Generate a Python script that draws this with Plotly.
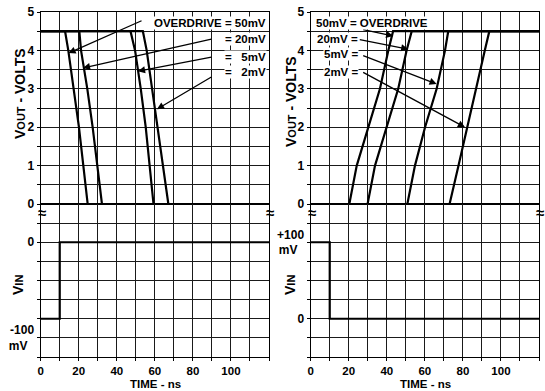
import plotly.graph_objects as go

# ---------------- data ----------------
# Left panel: output falling (time in ns, Vout in volts)
fall_v = [4.5, 4.5, 4.0, 3.0, 2.0, 1.0, 0.0, 0.0]
fall_t_50mv = [0, 12.8, 14.5, 17.5, 20.1, 22.4, 24.7, 120]
fall_t_20mv = [0, 20.3, 21.2, 24.5, 27.3, 29.7, 32.2, 120]
fall_t_5mv = [0, 47.2, 49.6, 52.6, 55.2, 57.3, 59.3, 120]
fall_t_2mv = [0, 53.7, 55.7, 58.6, 61.5, 64.3, 67.1, 120]

# Right panel: output rising
rise_v = [0.0, 0.0, 1.0, 2.0, 3.0, 4.0, 4.5, 4.5]
rise_t_50mv = [0, 20.3, 24.2, 30.3, 36.4, 40.8, 43.3, 120]
rise_t_20mv = [0, 29.9, 33.8, 39.9, 46.0, 50.4, 53.1, 120]
rise_t_5mv = [0, 50.8, 54.8, 60.1, 66.2, 70.6, 72.3, 120]
rise_t_2mv = [0, 73.0, 77.7, 82.2, 87.0, 91.5, 93.9, 120]

# Input steps (mV)
vin_t = [0, 10, 10, 120]
vin_left = [-100, -100, 0, 0]
vin_right = [100, 100, 0, 0]

# Ticks
x_grid = list(range(0, 121, 10))
x_labels = ["0", "", "20", "", "40", "", "60", "", "80", "", "100", "", ""]
vout_grid = [i * 0.5 for i in range(11)]
vout_labels = ["0", "", "1", "", "2", "", "3", "", "4", "", "5"]
vin_left_grid = list(range(-150, 51, 25))
vin_left_labels = ["", "-100<br>mV\u00a0\u00a0", "", "", "", "", "0", "", ""]
vin_right_grid = list(range(-50, 151, 25))
vin_right_labels = ["", "", "0", "", "", "", "+100<br>mV\u00a0\u00a0", "", ""]

left_labels = ["OVERDRIVE = 50mV", "= 20mV", "=\u00a0\u00a0\u00a05mV", "=\u00a0\u00a0\u00a02mV"]
right_labels = ["50mV = OVERDRIVE", "20mV =", "5mV =", "2mV ="]

# ---------------- figure ----------------
W, H = 545, 391
def px_x(p): return p / W
def px_y(p): return 1 - p / H

xl = [px_x(40.7), px_x(269)]
xr = [px_x(310.7), px_x(539)]
yu = [px_y(204), px_y(12)]
yd = [px_y(357), px_y(204)]

FONT = "Arial, Liberation Sans, Helvetica, sans-serif"
LW = 2.2

fig = go.Figure()
for t in [fall_t_50mv, fall_t_20mv, fall_t_5mv, fall_t_2mv]:
    fig.add_trace(go.Scatter(x=t, y=fall_v, mode="lines", line=dict(color="black", width=LW),
                             xaxis="x", yaxis="y", showlegend=False, hoverinfo="skip"))
fig.add_trace(go.Scatter(x=vin_t, y=vin_left, mode="lines", line=dict(color="black", width=LW),
                         xaxis="x2", yaxis="y2", showlegend=False, hoverinfo="skip"))
for t in [rise_t_50mv, rise_t_20mv, rise_t_5mv, rise_t_2mv]:
    fig.add_trace(go.Scatter(x=t, y=rise_v, mode="lines", line=dict(color="black", width=LW),
                             xaxis="x3", yaxis="y3", showlegend=False, hoverinfo="skip"))
fig.add_trace(go.Scatter(x=vin_t, y=vin_right, mode="lines", line=dict(color="black", width=LW),
                         xaxis="x4", yaxis="y4", showlegend=False, hoverinfo="skip"))

tickfont = dict(family=FONT, size=12, color="black", weight="bold")
common = dict(showline=True, mirror=True, linecolor="black", linewidth=1.3,
              showgrid=True, gridcolor="#1a1a1a", gridwidth=1.3, zeroline=False,
              ticks="outside", ticklen=3, tickcolor="black", tickwidth=1.2,
              automargin=False, fixedrange=True)

def xax(domain, anchor, labels):
    return dict(domain=domain, anchor=anchor, range=[0, 120], tickmode="array",
                tickvals=x_grid, ticktext=labels, ticklabelstandoff=0,
                tickfont=dict(family=FONT, size=11.5, color="black", weight="bold"), **common)

blank_x = [""] * len(x_grid)
fig.update_layout(
    width=W, height=H, margin=dict(l=0, r=0, t=0, b=0),
    paper_bgcolor="white", plot_bgcolor="white",
    xaxis=xax(xl, "y", blank_x),
    xaxis2=xax(xl, "y2", x_labels),
    xaxis3=xax(xr, "y3", blank_x),
    xaxis4=xax(xr, "y4", x_labels),
    yaxis=dict(domain=yu, anchor="x", range=[0, 5], tickmode="array",
               tickvals=vout_grid, ticktext=vout_labels, tickfont=tickfont, **common),
    yaxis2=dict(domain=yd, anchor="x2", range=[-150, 50], tickmode="array",
                tickvals=vin_left_grid, ticktext=vin_left_labels, tickfont=tickfont, **common),
    yaxis3=dict(domain=yu, anchor="x3", range=[0, 5], tickmode="array",
                tickvals=vout_grid, ticktext=vout_labels, tickfont=tickfont, **common),
    yaxis4=dict(domain=yd, anchor="x4", range=[-50, 150], tickmode="array",
                tickvals=vin_right_grid, ticktext=vin_right_labels, tickfont=tickfont, **common),
)

ann = []
lab_font = dict(family=FONT, size=11.5, color="black", weight="bold")

# Left arrows: (tail t, tail V, head t, head V)
left_arrows = [(53.8, 4.79, 14.6, 3.93), (90.5, 4.30, 22.2, 3.54),
               (90.5, 3.83, 51.1, 3.46), (90.5, 3.33, 61.1, 2.47)]
for (at, av, ht, hv) in left_arrows:
    ann.append(dict(x=ht, y=hv, ax=at, ay=av, xref="x", yref="y", axref="x", ayref="y",
                    text="", showarrow=True, arrowhead=2, arrowsize=1.1, arrowwidth=1.3,
                    arrowcolor="black", standoff=0))
right_arrows = [(26.8, 4.55, 43.4, 4.375), (25.0, 4.29, 51.3, 4.03),
                (26.8, 3.88, 66.2, 3.125), (26.8, 3.45, 81.1, 2.0)]
for (at, av, ht, hv) in right_arrows:
    ann.append(dict(x=ht, y=hv, ax=at, ay=av, xref="x3", yref="y3", axref="x3", ayref="y3",
                    text="", showarrow=True, arrowhead=2, arrowsize=1.1, arrowwidth=1.3,
                    arrowcolor="black", standoff=0))

left_label_y = [4.72, 4.29, 3.83, 3.45]
for txt, yy in zip(left_labels, left_label_y):
    ann.append(dict(x=118.9, y=yy, xref="x", yref="y", text=txt, showarrow=False,
                    xanchor="right", yanchor="middle", font=lab_font, bgcolor="white", borderpad=0))
right_label_y = [4.72, 4.29, 3.91, 3.45]
for i, (txt, yy) in enumerate(zip(right_labels, right_label_y)):
    if i == 0:
        ann.append(dict(x=2.3, y=yy, xref="x3", yref="y3", text=txt, showarrow=False,
                        xanchor="left", yanchor="middle", font=lab_font, bgcolor="white", borderpad=0))
    else:
        ann.append(dict(x=25.5, y=yy, xref="x3", yref="y3", text=txt, showarrow=False,
                        xanchor="right", yanchor="middle", font=lab_font, bgcolor="white", borderpad=0))

title_font = dict(family=FONT, size=14, color="black", weight="bold")
vout_title = "V<span style='font-size:11px'>OUT</span> - VOLTS"
vin_title = "V<span style='font-size:11px'>IN</span>"
for xp, yp in [(20, 94), (291, 102)]:
    ann.append(dict(x=px_x(xp), y=px_y(yp), xref="paper", yref="paper", text=vout_title,
                    textangle=-90, showarrow=False, font=title_font,
                    xanchor="center", yanchor="middle"))
for xp, yp in [(18, 285), (290, 285)]:
    ann.append(dict(x=px_x(xp), y=px_y(yp), xref="paper", yref="paper", text=vin_title,
                    textangle=-90, showarrow=False, font=title_font,
                    xanchor="center", yanchor="middle"))
for xp in [155, 425]:
    ann.append(dict(x=px_x(xp), y=px_y(384), xref="paper", yref="paper", text="TIME - ns",
                    showarrow=False, xanchor="center", yanchor="middle",
                    font=dict(family=FONT, size=11.5, color="black", weight="bold")))

# break marks (axis break symbol)
for xp in [42, 270, 312, 540]:
    ann.append(dict(x=px_x(xp), y=px_y(212), xref="paper", yref="paper", text="\u2248",
                    showarrow=False, xanchor="center", yanchor="middle", textangle=0,
                    font=dict(family=FONT, size=15, color="black", weight="bold")))

fig.update_layout(annotations=ann)
fig.write_html("out.html", config={"displayModeBar": False},
               post_script="document.body.style.margin='0px';document.body.style.overflow='hidden';")
